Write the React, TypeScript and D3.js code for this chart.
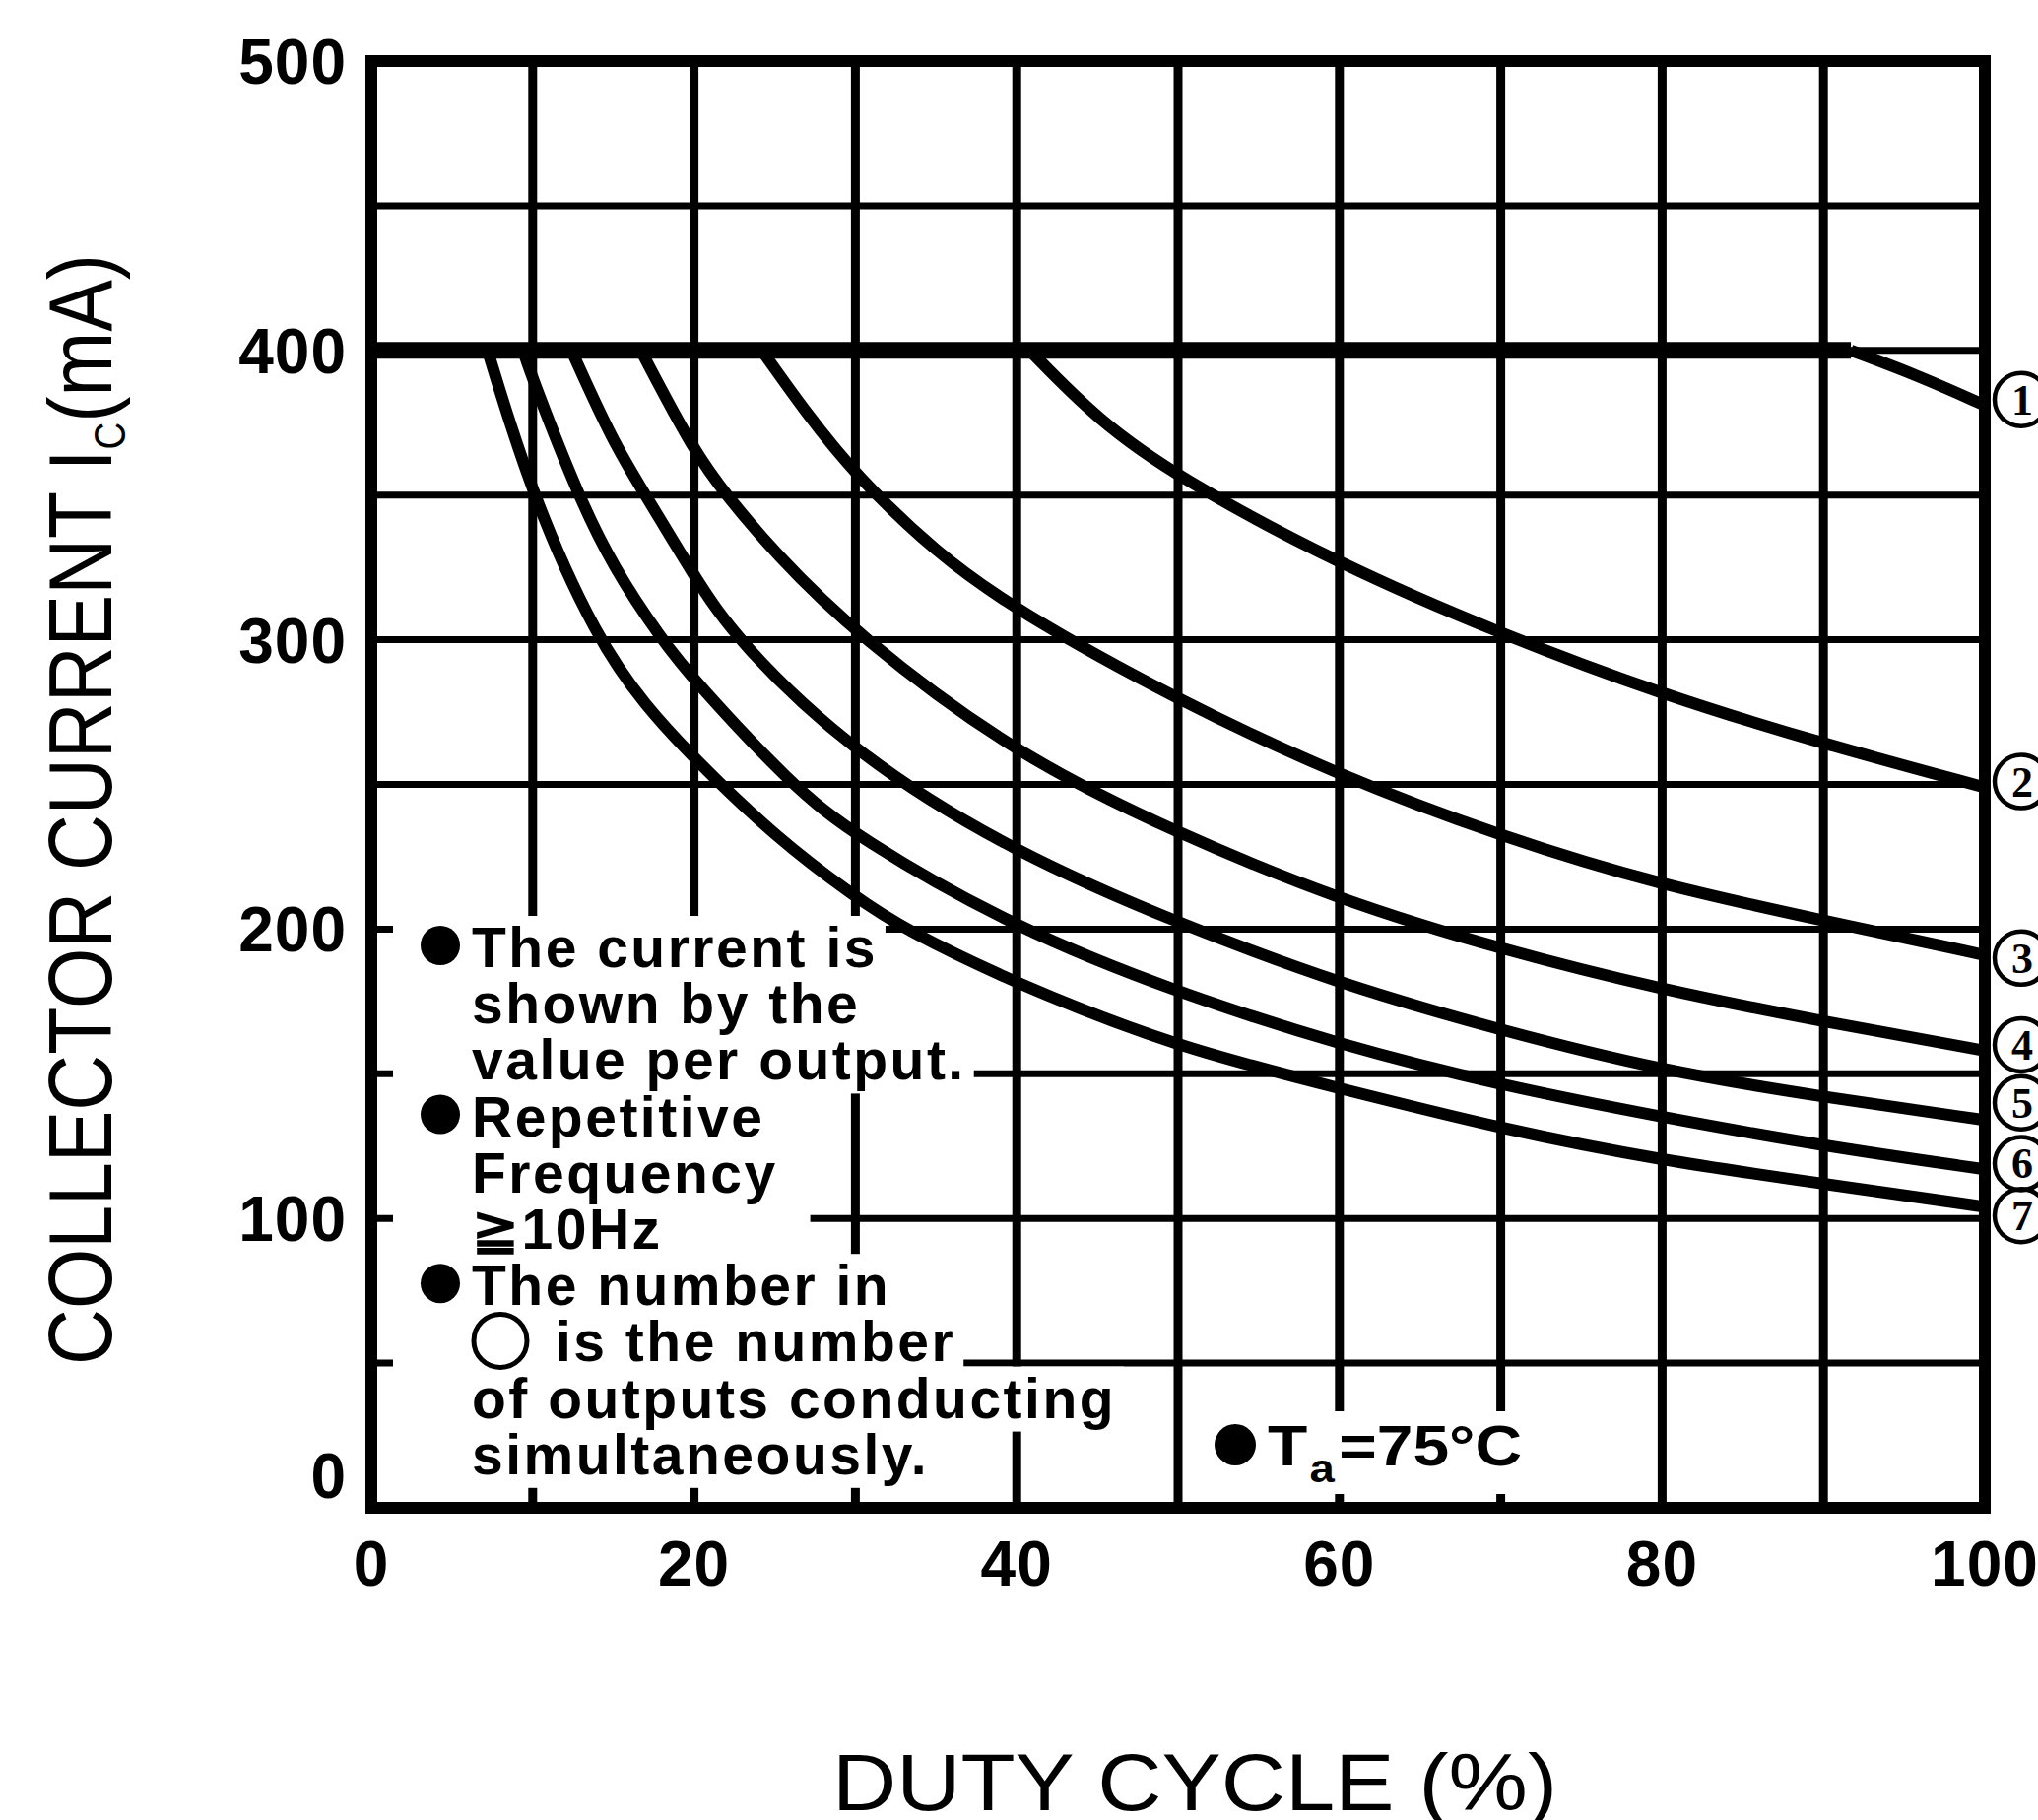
import { useEffect, useRef } from "react";
import * as d3 from "d3";

const W = 2069;
const H = 1848;

// [duty cycle %, collector current mA], one list per curve
const curve1 = [[91.7, 400], [96, 391], [100, 381]];
const curve2 = [[40.8, 400], [45, 376], [50, 356], [60, 326], [70, 302], [80, 281], [90, 264], [100, 249]];
const curve3 = [[24.2, 400], [27, 378], [30, 357], [35, 330], [40, 310], [50, 279], [60, 253], [70, 232], [80, 215], [90, 203], [100, 191]];
const curve4 = [[16.7, 400], [20, 365], [22, 350], [25, 330], [30, 302], [40, 260], [50, 233], [60, 210], [70, 193], [80, 179], [90, 168], [100, 158]];
const curve5 = [[12.4, 400], [15, 368], [17, 350], [20, 322], [22.6, 300], [30, 260], [40, 226], [50, 202], [60, 181], [70, 165], [80, 151], [90, 142], [100, 134]];
const curve6 = [[9.4, 400], [10, 390], [12.8, 350], [15, 325], [18, 300], [20, 286], [26, 250], [30, 232], [40, 200], [50, 178], [60, 160], [70, 146], [80, 135], [90, 125], [100, 117]];
const curve7 = [[7.2, 400], [10, 349], [14, 300], [17, 277], [20, 259], [25, 232], [30, 211], [33, 200], [40, 181], [50, 159], [60, 145], [70, 131], [80, 120], [90, 112], [100, 104]];
const curves = [curve1, curve2, curve3, curve4, curve5, curve6, curve7];

const curveNames = ["1", "2", "3", "4", "5", "6", "7"];
// where the circled numbers sit on the current axis (they are stacked, not exactly at the line ends)
const curveNameAt = [383, 251, 190, 160, 140, 119, 101];

const ceiling = 400; // shared flat top of all curves

const xTicks = [0, 20, 40, 60, 80, 100];
const yTicks = [0, 100, 200, 300, 400, 500];
const xGrid = [10, 20, 30, 40, 50, 60, 70, 80, 90];
const yGrid = [50, 100, 150, 200, 250, 300, 350, 400, 450];

const notes = [
  "The current is",
  "shown by the",
  "value per output.",
  "Repetitive",
  "Frequency",
  "≧10Hz",
  "The number in",
  "is the number",
  "of outputs conducting",
  "simultaneously.",
];
const bulletRows = [0, 3, 6];
const openCircleRow = 7;
// extra white to the right of a row (the ≧10Hz row hides more of the 100 mA line)
const rowPad = [8, 8, 8, 8, 8, 150, 8, 8, 8, 8];

const SANS = "'Liberation Sans', Arial, Helvetica, sans-serif";
const SERIF = "'Liberation Serif', 'Times New Roman', serif";

export default function App() {
  const svgRef = useRef<SVGSVGElement | null>(null);

  useEffect(() => {
    if (!svgRef.current) return;
    const svg = d3.select(svgRef.current);
    svg.selectAll("*").remove();

    const x = d3.scaleLinear().domain([0, 100]).range([377, 2015]);
    const y = d3.scaleLinear().domain([0, 500]).range([1531, 62]);

    svg.append("rect").attr("width", W).attr("height", H).attr("fill", "#fff");

    // grid
    const grid = svg.append("g").attr("stroke", "#000");
    grid.selectAll("line.v").data(xGrid).join("line").attr("class", "v")
      .attr("x1", d => x(d)).attr("x2", d => x(d))
      .attr("y1", y(500)).attr("y2", y(0))
      .attr("stroke-width", 9);
    grid.selectAll("line.h").data(yGrid).join("line").attr("class", "h")
      .attr("x1", x(0)).attr("x2", x(100))
      .attr("y1", d => y(d)).attr("y2", d => y(d))
      .attr("stroke-width", 7);

    // white boxes behind the notes hide the grid, like the printed sheet
    const masks = svg.append("g").attr("fill", "#fff");

    // flat 400 mA part, shared by every curve
    svg.append("line")
      .attr("x1", x(0)).attr("x2", x(curve1[0][0]))
      .attr("y1", y(ceiling)).attr("y2", y(ceiling))
      .attr("stroke", "#000").attr("stroke-width", 17);

    const line = d3.line<number[]>()
      .x(d => x(d[0]))
      .y(d => y(d[1]))
      .curve(d3.curveBasis);

    svg.append("g")
      .selectAll("path")
      .data(curves)
      .join("path")
      .attr("d", d => line(d))
      .attr("fill", "none")
      .attr("stroke", "#000")
      .attr("stroke-width", 12)
      .attr("stroke-linejoin", "round");

    // frame
    svg.append("rect")
      .attr("x", x(0)).attr("y", y(500))
      .attr("width", x(100) - x(0)).attr("height", y(0) - y(500))
      .attr("fill", "none").attr("stroke", "#000").attr("stroke-width", 12);

    // notes
    const noteG = svg.append("g").attr("font-family", SANS).attr("font-weight", "bold")
      .attr("font-size", 57).attr("letter-spacing", 2.5).attr("fill", "#000");
    const noteX = 479;
    const noteY0 = 982;
    const noteStep = 57.2;
    notes.forEach((txt, i) => {
      const by = noteY0 + i * noteStep;
      const tx = i === openCircleRow ? noteX + 85 : noteX;
      const t = noteG.append("text").attr("x", tx).attr("y", by).text(txt);
      const bb = (t.node() as SVGTextElement).getBBox();
      masks.append("rect")
        .attr("x", x(0) + 22).attr("y", bb.y)
        .attr("width", bb.x + bb.width + rowPad[i] - (x(0) + 22))
        .attr("height", bb.height + 2);
      if (bulletRows.includes(i)) {
        noteG.append("circle").attr("cx", 447).attr("cy", by - 22).attr("r", 20);
      }
      if (i === openCircleRow) {
        noteG.append("circle").attr("cx", 508).attr("cy", by - 21).attr("r", 27)
          .attr("fill", "none").attr("stroke", "#000").attr("stroke-width", 5);
      }
    });

    // Ta = 75 C
    const taG = svg.append("g").attr("font-family", SANS).attr("font-weight", "bold").attr("fill", "#000");
    const ta = taG.append("text").attr("x", 1287).attr("y", 1488).attr("font-size", 58)
      .attr("textLength", 258).attr("lengthAdjust", "spacingAndGlyphs");
    ta.append("tspan").text("T");
    ta.append("tspan").attr("font-size", 40).attr("dy", 17).attr("dx", 2).text("a");
    ta.append("tspan").attr("dy", -17).attr("dx", 4).text("=75°C");
    const tb = (ta.node() as SVGTextElement).getBBox();
    masks.append("rect").attr("x", 1228).attr("y", tb.y - 2)
      .attr("width", tb.x + tb.width + 8 - 1228).attr("height", tb.height + 6);
    taG.append("circle").attr("cx", 1254).attr("cy", 1467).attr("r", 21);

    // circled curve numbers at the right edge
    const names = svg.append("g");
    curveNames.forEach((n, i) => {
      const cy = y(curveNameAt[i]);
      const cx = x(100) + 37;
      names.append("circle").attr("cx", cx).attr("cy", cy).attr("r", 27)
        .attr("fill", "none").attr("stroke", "#000").attr("stroke-width", 4.5);
      names.append("text").attr("x", cx + 1).attr("y", cy + 15)
        .attr("text-anchor", "middle").attr("font-family", SERIF).attr("font-weight", "bold")
        .attr("font-size", 44).text(n);
    });

    // tick labels
    const ticks = svg.append("g").attr("font-family", SANS).attr("font-weight", "bold")
      .attr("font-size", 64).attr("letter-spacing", 1).attr("fill", "#000");
    ticks.selectAll("text.y").data(yTicks).join("text").attr("class", "y")
      .attr("x", 352)
      .attr("y", d => (d === 0 ? y(d) - 10 : y(d) + 23))
      .attr("text-anchor", "end")
      .text(d => d);
    ticks.selectAll("text.x").data(xTicks).join("text").attr("class", "x")
      .attr("x", d => x(d))
      .attr("y", 1610)
      .attr("text-anchor", "middle")
      .text(d => d);

    // axis titles
    const yt = svg.append("text")
      .attr("transform", "translate(113,822) rotate(-90)")
      .attr("text-anchor", "middle")
      .attr("font-family", SANS).attr("font-size", 90).attr("fill", "#000")
      .attr("textLength", 1128).attr("lengthAdjust", "spacingAndGlyphs");
    yt.append("tspan").text("COLLECTOR CURRENT I");
    yt.append("tspan").attr("font-size", 44).attr("dy", 14).text("C");
    yt.append("tspan").attr("dy", -14).text("(mA)");

    svg.append("text")
      .attr("x", 1213).attr("y", 1838)
      .attr("text-anchor", "middle")
      .attr("font-family", SANS).attr("font-size", 82).attr("fill", "#000")
      .attr("textLength", 736).attr("lengthAdjust", "spacingAndGlyphs")
      .text("DUTY CYCLE (%)");
  }, []);

  return (
    <svg
      ref={svgRef}
      width={W}
      height={H}
      style={{ position: "absolute", left: 0, top: 0, display: "block", background: "#fff" }}
    />
  );
}
